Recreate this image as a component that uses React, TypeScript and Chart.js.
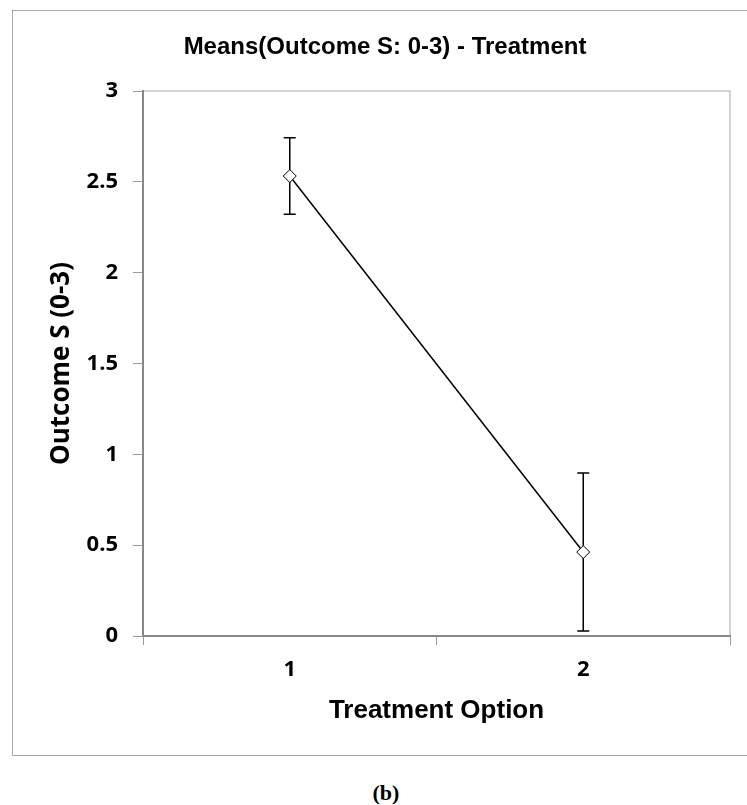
import React, { useEffect, useRef } from 'react';
import { Chart, registerables } from 'chart.js';

Chart.register(...registerables);

const categories = ['1', '2'];
const means = [2.532, 0.462];
const errors = [0.21, 0.435];
const yTicks = [0, 0.5, 1, 1.5, 2, 2.5, 3];
const chartTitle = 'Means(Outcome S: 0-3) - Treatment';
const xTitle = 'Treatment Option';
const yTitle = 'Outcome S (0-3)';
const caption = '(b)';

const errorBarPlugin = {
  id: 'errorBars',
  beforeDatasetsDraw(chart: any) {
    const { ctx, scales } = chart;
    const x = scales.x;
    const y = scales.y;
    ctx.save();
    ctx.strokeStyle = '#000';
    ctx.lineWidth = 1.5;
    means.forEach((m, i) => {
      const px = x.getPixelForValue(i);
      const top = y.getPixelForValue(m + errors[i]);
      const bot = y.getPixelForValue(m - errors[i]);
      ctx.beginPath();
      ctx.moveTo(px, top);
      ctx.lineTo(px, bot);
      ctx.moveTo(px - 6, top);
      ctx.lineTo(px + 6, top);
      ctx.moveTo(px - 6, bot);
      ctx.lineTo(px + 6, bot);
      ctx.stroke();
    });
    ctx.restore();
  },
};

const plotFramePlugin = {
  id: 'plotFrame',
  beforeDraw(chart: any) {
    const { ctx, chartArea } = chart;
    const { left, right, top, bottom } = chartArea;
    ctx.save();
    ctx.strokeStyle = '#c4c4c4';
    ctx.lineWidth = 1.5;
    ctx.beginPath();
    ctx.moveTo(left, top);
    ctx.lineTo(right, top);
    ctx.lineTo(right, bottom);
    ctx.stroke();
    ctx.restore();
  },
};

export default function App() {
  const ref = useRef<HTMLCanvasElement>(null);

  useEffect(() => {
    document.body.style.margin = '0';
    const canvas = ref.current;
    if (!canvas) return;
    const chart = new Chart(canvas, {
      type: 'line',
      data: {
        labels: categories,
        datasets: [
          {
            data: means,
            borderColor: '#000',
            borderWidth: 1.5,
            pointStyle: 'rectRot',
            pointRadius: 6.5,
            pointBackgroundColor: '#fff',
            pointBorderColor: '#000',
            pointBorderWidth: 1,
            tension: 0,
            fill: false,
          },
        ],
      },
      options: {
        animation: false,
        responsive: false,
        devicePixelRatio: 1,
        layout: { padding: { left: 40, right: 17, top: 10, bottom: 24 } },
        plugins: {
          legend: { display: false },
          tooltip: { enabled: false },
          title: {
            display: true,
            text: chartTitle,
            color: '#000',
            font: { family: '"Liberation Sans", Arial, sans-serif', size: 24, weight: 'bold' },
            padding: { top: 22.6, bottom: 29.6 },
          },
        },
        scales: {
          x: {
            type: 'category',
            offset: true,
            afterFit: (s: any) => {
              s.height = 100;
            },
            grid: {
              offset: true,
              drawOnChartArea: false,
              drawTicks: true,
              tickLength: 9,
              color: '#9a9a9a',
              lineWidth: 1,
            },
            border: { display: true, color: '#888888', width: 2 },
            ticks: {
              color: '#000',
              padding: 12,
              font: { family: '"Open Sans", sans-serif', size: 22, weight: 'bold' },
            },
            title: {
              display: true,
              text: xTitle,
              color: '#000',
              font: { family: '"Liberation Sans", Arial, sans-serif', size: 26, weight: 'bold' },
              padding: { top: 0, bottom: 10 },
            },
          },
          y: {
            min: 0,
            max: 3,
            afterFit: (s: any) => {
              s.width = 103;
            },
            afterBuildTicks: (s: any) => {
              s.ticks = yTicks.map((v) => ({ value: v }));
            },
            grid: {
              drawOnChartArea: false,
              drawTicks: true,
              tickLength: 10,
              color: '#9a9a9a',
              lineWidth: 1,
            },
            border: { display: true, color: '#888888', width: 2 },
            ticks: {
              color: '#000',
              padding: 15,
              font: { family: '"Open Sans", sans-serif', size: 22, weight: 'bold' },
              callback: (v: any) => String(v),
            },
            title: {
              display: true,
              text: yTitle,
              color: '#000',
              font: { family: '"Open Sans", sans-serif', size: 26, weight: 'bold' },
              padding: { top: 6.4, bottom: 0 },
            },
          },
        },
      },
      plugins: [plotFramePlugin, errorBarPlugin],
    });
    return () => chart.destroy();
  }, []);

  return (
    <div style={{ position: 'relative', width: 747, height: 805, overflow: 'hidden', background: '#fff' }}>
      <div
        style={{
          position: 'absolute',
          left: 12,
          top: 10,
          width: 760,
          height: 746,
          border: '1.5px solid #a8a8a8',
          boxSizing: 'border-box',
        }}
      />
      <canvas ref={ref} width={747} height={760} style={{ position: 'absolute', left: 0, top: 0 }} />
      <div
        style={{
          position: 'absolute',
          left: 0,
          width: 772,
          top: 780,
          lineHeight: '26px',
          textAlign: 'center',
          fontFamily: '"Liberation Serif", serif',
          fontWeight: 'bold',
          fontSize: 22,
          color: '#000',
        }}
      >
        {caption}
      </div>
    </div>
  );
}
